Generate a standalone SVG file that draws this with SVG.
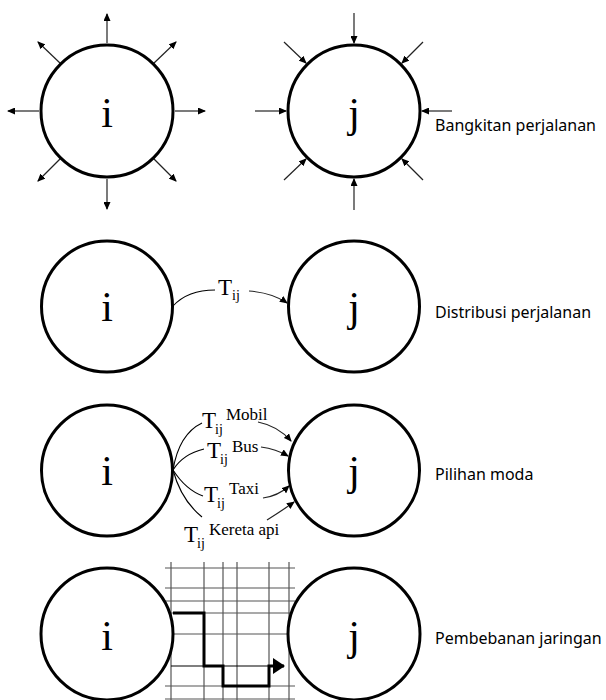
<svg xmlns="http://www.w3.org/2000/svg" width="606" height="700" viewBox="0 0 606 700">
<style>
.node{fill:#fff;stroke:#000;stroke-width:3}
.big{font-family:"Liberation Serif","DejaVu Serif",serif;font-size:42px;fill:#000;text-anchor:middle}
.lbl{font-family:"Noto Sans","DejaVu Sans",sans-serif;font-size:16px;fill:#000}
.T{font-family:"Liberation Serif","DejaVu Serif",serif;font-size:23px;fill:#000}
.sub{font-family:"Liberation Serif","DejaVu Serif",serif;font-size:14px;fill:#000}
.sup{font-family:"Liberation Serif","DejaVu Serif",serif;font-size:17px;fill:#000}
.ar{fill:none;stroke:#222;stroke-width:1.2;marker-end:url(#ah)}
.cv{fill:none;stroke:#000;stroke-width:1.1}
.grid{stroke:#555;stroke-width:1.2}
</style>
<defs>
<marker id="ah" markerUnits="userSpaceOnUse" markerWidth="8" markerHeight="7" refX="7" refY="3.5" orient="auto">
<path d="M0,0 L8,3.5 L0,7 z" fill="#000"/>
</marker>
<marker id="bh" markerUnits="userSpaceOnUse" markerWidth="12" markerHeight="16" refX="11" refY="8" orient="auto">
<path d="M0,0 L12,8 L0,16 z" fill="#000"/>
</marker>
</defs>

<g id="connectors">
<line class="ar" x1="107" y1="43" x2="107" y2="14"/>
<line class="ar" x1="107" y1="179" x2="107" y2="209"/>
<line class="ar" x1="39" y1="111" x2="8" y2="111"/>
<line class="ar" x1="175" y1="111" x2="205" y2="111"/>
<line class="ar" x1="153" y1="64" x2="176" y2="42"/>
<line class="ar" x1="61" y1="64" x2="38" y2="42"/>
<line class="ar" x1="153" y1="158" x2="176" y2="181"/>
<line class="ar" x1="61" y1="158" x2="38" y2="181"/>
<line class="ar" x1="354" y1="13" x2="354" y2="43"/>
<line class="ar" x1="354" y1="210" x2="354" y2="179"/>
<line class="ar" x1="255" y1="111" x2="286" y2="111"/>
<line class="ar" x1="452" y1="111" x2="422" y2="111"/>
<line class="ar" x1="284" y1="42" x2="306" y2="63"/>
<line class="ar" x1="423" y1="42" x2="402" y2="63"/>
<line class="ar" x1="284" y1="180" x2="306" y2="159"/>
<line class="ar" x1="423" y1="180" x2="402" y2="159"/>
<path class="cv" d="M173,306 C185,293 200,290 215,290"/>
<path class="ar" d="M249,291 C262,292 277,296 287,303"/>
<path class="cv" d="M173,470 Q179,434 202,423"/>
<path class="ar" d="M258,422 Q278,426 291,441"/>
<path class="cv" d="M173,470 Q183,454 204,449"/>
<path class="ar" d="M261,447 Q276,449 288,456"/>
<path class="cv" d="M173,470 Q186,490 203,496"/>
<path class="ar" d="M263,498 Q278,496 289,486"/>
<path class="cv" d="M173,470 Q181,500 202,517"/>
<path class="ar" d="M267,520 Q283,510 294,502"/>
<g class="grid">
<line x1="171" y1="562" x2="171" y2="700"/>
<line x1="204" y1="562" x2="204" y2="700"/>
<line x1="223" y1="562" x2="223" y2="700"/>
<line x1="237" y1="562" x2="237" y2="700"/>
<line x1="269" y1="562" x2="269" y2="700"/>
<line x1="289" y1="562" x2="289" y2="700"/>
<line x1="165" y1="568" x2="295" y2="568"/>
<line x1="165" y1="588" x2="295" y2="588"/>
<line x1="165" y1="601" x2="295" y2="601"/>
<line x1="165" y1="613" x2="295" y2="613"/>
<line x1="165" y1="634" x2="295" y2="634"/>
<line x1="165" y1="686" x2="295" y2="686"/>
<line x1="165" y1="699" x2="295" y2="699"/>
</g>
<line x1="171" y1="666" x2="269" y2="666" stroke="#000" stroke-width="1.2"/>
<path d="M173,613 H204 V666 H223 V686 H269 V666 H284" fill="none" stroke="#000" stroke-width="3" marker-end="url(#bh)"/>
</g>

<g id="row1-i"><circle class="node" cx="107" cy="111" r="66"/><text class="big" x="107" y="127">i</text></g>
<g id="row1-j"><circle class="node" cx="354" cy="111" r="66"/><text class="big" x="354" y="127">j</text></g>
<g id="row1-label"><text class="lbl" x="435" y="131">Bangkitan perjalanan</text></g>

<g id="row2-i"><circle class="node" cx="107" cy="306.5" r="65.5"/><text class="big" x="107" y="321">i</text></g>
<g id="row2-j"><circle class="node" cx="354" cy="306.5" r="65.5"/><text class="big" x="354" y="321">j</text></g>
<g id="row2-T"><text class="T" x="218" y="295">T</text><text class="sub" x="232" y="300">ij</text></g>
<g id="row2-label"><text class="lbl" x="435" y="318">Distribusi perjalanan</text></g>

<g id="row3-i"><circle class="node" cx="107" cy="470.5" r="65.5"/><text class="big" x="107" y="485">i</text></g>
<g id="row3-j"><circle class="node" cx="354" cy="470.5" r="65.5"/><text class="big" x="354" y="485">j</text></g>
<g id="row3-mobil"><text class="T" x="202" y="428">T</text><text class="sub" x="215" y="434">ij</text><text class="sup" x="226" y="420">Mobil</text></g>
<g id="row3-bus"><text class="T" x="207" y="458">T</text><text class="sub" x="220" y="464">ij</text><text class="sup" x="232" y="452">Bus</text></g>
<g id="row3-taxi"><text class="T" x="204" y="502">T</text><text class="sub" x="217" y="508">ij</text><text class="sup" x="229" y="494">Taxi</text></g>
<g id="row3-kereta"><text class="T" x="184" y="542">T</text><text class="sub" x="197" y="548">ij</text><text class="sup" x="209" y="535">Kereta api</text></g>
<g id="row3-label"><text class="lbl" x="435" y="480">Pilihan moda</text></g>

<g id="row4-i"><circle class="node" cx="107" cy="634" r="66"/><text class="big" x="107" y="650">i</text></g>
<g id="row4-j"><circle class="node" cx="354" cy="634" r="66"/><text class="big" x="354" y="650">j</text></g>
<g id="row4-label"><text class="lbl" x="435" y="644">Pembebanan jaringan</text></g>
</svg>
